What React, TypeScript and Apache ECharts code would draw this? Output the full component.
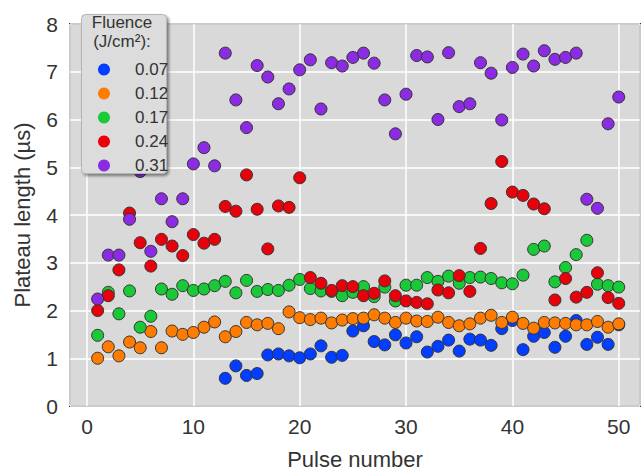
import React, { useEffect, useRef } from "react";
import * as echarts from "echarts";

const pulses = [1, 2, 3, 4, 5, 6, 7, 8, 9, 10, 11, 12, 13, 14, 15, 16, 17, 18, 19, 20, 21, 22, 23, 24, 25, 26, 27, 28, 29, 30, 31, 32, 33, 34, 35, 36, 37, 38, 39, 40, 41, 42, 43, 44, 45, 46, 47, 48, 49, 50];
const bluePulses = [13, 14, 15, 16, 17, 18, 19, 20, 21, 22, 23, 24, 25, 26, 27, 28, 29, 30, 31, 32, 33, 34, 35, 36, 37, 38, 39, 40, 41, 42, 43, 44, 45, 46, 47, 48, 49, 50];

const fluence007 = [0.58, 0.84, 0.64, 0.68, 1.07, 1.09, 1.05, 1.01, 1.09, 1.26, 1.02, 1.06, 1.57, 1.68, 1.35, 1.28, 1.49, 1.32, 1.45, 1.13, 1.25, 1.38, 1.15, 1.40, 1.38, 1.27, 1.62, 1.79, 1.18, 1.46, 1.54, 1.23, 1.46, 1.79, 1.29, 1.44, 1.29, 1.70];
const fluence012 = [1.00, 1.24, 1.05, 1.34, 1.22, 1.56, 1.22, 1.57, 1.50, 1.54, 1.65, 1.76, 1.45, 1.56, 1.75, 1.70, 1.73, 1.62, 1.97, 1.85, 1.81, 1.84, 1.74, 1.80, 1.83, 1.84, 1.91, 1.84, 1.75, 1.84, 1.78, 1.77, 1.86, 1.75, 1.68, 1.72, 1.84, 1.90, 1.75, 1.86, 1.73, 1.63, 1.75, 1.74, 1.73, 1.70, 1.70, 1.77, 1.65, 1.72];
const fluence017 = [1.48, 2.38, 1.93, 2.41, 1.65, 1.88, 2.45, 2.34, 2.52, 2.42, 2.45, 2.52, 2.61, 2.37, 2.63, 2.40, 2.44, 2.42, 2.53, 2.65, 2.46, 2.41, 2.40, 2.31, 2.38, 2.50, 2.29, 2.49, 2.20, 2.53, 2.53, 2.69, 2.61, 2.72, 2.57, 2.69, 2.70, 2.67, 2.58, 2.56, 2.74, 3.28, 3.35, 2.60, 2.90, 3.17, 3.47, 2.55, 2.52, 2.49];
const fluence024 = [2.00, 2.31, 2.85, 4.04, 3.42, 2.93, 3.49, 3.35, 3.15, 3.59, 3.41, 3.49, 4.18, 4.08, 4.84, 4.12, 3.29, 4.19, 4.16, 4.78, 2.69, 2.57, 2.42, 2.52, 2.50, 2.31, 2.36, 2.62, 2.31, 2.20, 2.17, 2.14, 2.43, 2.37, 2.73, 2.40, 3.30, 4.24, 5.12, 4.48, 4.41, 4.23, 4.13, 2.22, 2.67, 2.28, 2.38, 2.79, 2.27, 2.15];
const fluence031 = [2.24, 3.16, 3.16, 3.91, 4.91, 3.24, 4.34, 3.86, 4.34, 5.07, 5.41, 5.03, 7.39, 6.41, 5.83, 7.13, 6.89, 6.33, 6.64, 7.04, 7.25, 6.22, 7.19, 7.12, 7.30, 7.39, 7.18, 6.41, 5.70, 6.53, 7.34, 7.31, 6.00, 7.40, 6.27, 6.33, 7.19, 6.97, 5.99, 7.09, 7.37, 7.12, 7.44, 7.26, 7.30, 7.39, 4.33, 4.14, 5.91, 6.47];

const seriesNames = ["0.07", "0.12", "0.17", "0.24", "0.31"];
const seriesColors = ["#023eff", "#ff7c00", "#1ac938", "#e8000b", "#8b2be2"];
const xTickLabels = ["0", "10", "20", "30", "40", "50"];

const FONT = "'Liberation Sans', Arial, sans-serif";
const TEXT = "#333333";

export default function App() {
  const ref = useRef<HTMLDivElement>(null);
  useEffect(() => {
    if (!ref.current) return;
    const chart = echarts.init(ref.current, null, { renderer: "svg" });
    const allX = [bluePulses, pulses, pulses, pulses, pulses];
    const allY = [fluence007, fluence012, fluence017, fluence024, fluence031];
    const series = allY.map((ys, i) => ({
      name: seriesNames[i],
      type: "scatter",
      data: ys.map((v, j) => [allX[i][j], v]),
      symbol: "circle",
      symbolSize: 12,
      itemStyle: { color: seriesColors[i], borderColor: "#333", borderWidth: 1, opacity: 1 },
      emphasis: { disabled: true },
      z: 2 + i,
    }));
    chart.setOption({
      animation: false,
      textStyle: { fontFamily: FONT },
      grid: {
        left: 70,
        right: 1,
        top: 24,
        bottom: 65,
        show: true,
        backgroundColor: "#d9d9d9",
        borderColor: "#333",
        borderWidth: 2,
      },
      xAxis: {
        type: "value",
        min: -1.6,
        max: 52,
        splitNumber: 5,
        axisLine: { show: false },
        axisTick: { show: false },
        axisLabel: {
          fontSize: 21,
          color: TEXT,
          fontFamily: FONT,
          margin: 10,
          showMinLabel: false,
          showMaxLabel: false,
          formatter: (v: number) => {
            const s = String(Math.round(v));
            return Math.abs(v % 10) < 1e-6 && xTickLabels.includes(s) ? s : "";
          },
        },
        splitLine: { show: true, lineStyle: { color: "#ffffff", width: 1.5 } },
        name: "Pulse number",
        nameLocation: "middle",
        nameGap: 42,
        nameTextStyle: { fontSize: 22, color: TEXT, fontFamily: FONT },
      },
      yAxis: {
        type: "value",
        min: 0,
        max: 8,
        interval: 1,
        axisLine: { show: false },
        axisTick: { show: false },
        axisLabel: { fontSize: 21, color: TEXT, fontFamily: FONT, margin: 12 },
        splitLine: { show: true, lineStyle: { color: "#ffffff", width: 1.5 } },
        name: "Plateau length (µs)",
        nameLocation: "middle",
        nameGap: 37,
        nameTextStyle: { fontSize: 22, color: TEXT, fontFamily: FONT },
      },
      legend: {
        show: true,
        orient: "vertical",
        left: 93,
        top: 56,
        itemWidth: 12,
        itemHeight: 12,
        itemGap: 7,
        icon: "circle",
        selectedMode: false,
        z: 20,
        itemStyle: { borderWidth: 0 },
        textStyle: { fontSize: 17, color: TEXT, fontFamily: FONT, padding: [0, 0, 0, 20] },
        data: seriesNames,
      },
      graphic: {
        elements: [
          {
            type: "rect",
            z: 15,
            shape: { x: 81.5, y: 14.5, width: 85, height: 159, r: 4 },
            style: {
              fill: "#dcdcdc",
              stroke: "#b5b5b5",
              lineWidth: 1,
              shadowBlur: 3,
              shadowOffsetX: 2,
              shadowOffsetY: 2,
              shadowColor: "rgba(0,0,0,0.45)",
            },
          },
          {
            type: "text",
            z: 16,
            x: 122,
            y: 13,
            style: {
              text: "Fluence\n(J/cm²):",
              fill: TEXT,
              fontSize: 17,
              fontFamily: FONT,
              align: "center",
              verticalAlign: "top",
              lineHeight: 19,
            },
          },
        ],
      },
      series,
    });
    return () => chart.dispose();
  }, []);
  return <div ref={ref} style={{ width: 641, height: 475, position: "absolute", left: 0, top: 0 }} />;
}
